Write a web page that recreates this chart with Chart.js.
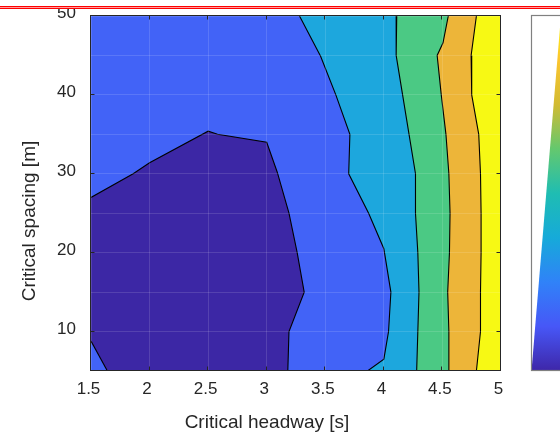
<!DOCTYPE html>
<html><head><meta charset="utf-8">
<script src="https://cdn.jsdelivr.net/npm/chart.js@4/dist/chart.umd.min.js"></script>
<style>html,body{margin:0;padding:0;background:#fff;overflow:hidden}canvas{display:block}</style>
</head><body>
<canvas id="c" width="560" height="433" style="width:560px;height:433px"></canvas>
<script>
// ---- data ----
const xLimits = [1.5, 5];
const yLimits = [5, 50];
const xTickValues = [1.5, 2, 2.5, 3, 3.5, 4, 4.5, 5];
const yTickValues = [10, 20, 30, 40, 50];
const xAxisLabel = 'Critical headway [s]';
const yAxisLabel = 'Critical spacing [m]';

// lowest band: closed region on the left
const band1X = [1.5, 1.86, 2.0, 2.5, 2.58, 3.0, 3.09, 3.19, 3.26, 3.32, 3.19, 3.18, 1.64, 1.5];
const band1Y = [27.0, 30.0, 31.4, 35.4, 35.0, 34.0, 30.2, 25.0, 20.0, 15.0, 10.0, 5.0, 5.0, 8.8];
// contour boundaries (top to bottom); everything right of each one is the next band
const edge3X = [3.28, 3.46, 3.59, 3.71, 3.70, 3.87, 4.00, 4.06, 4.04, 4.00, 3.86];
const edge3Y = [50, 44.9, 40, 35, 30, 25, 20.5, 15, 10, 6.5, 5];
const edge4X = [4.11, 4.105, 4.16, 4.215, 4.27, 4.27, 4.29, 4.30, 4.29, 4.28];
const edge4Y = [50, 45, 40, 35, 30, 25, 20, 15, 10, 5];
const edge5X = [4.55, 4.505, 4.455, 4.49, 4.53, 4.555, 4.565, 4.56, 4.545, 4.555, 4.555];
const edge5Y = [50, 46.6, 45, 40, 35, 30, 25, 20, 15, 10, 5];
const edge6X = [4.79, 4.745, 4.75, 4.81, 4.825, 4.83, 4.83, 4.825, 4.825, 4.79];
const edge6Y = [50, 45, 40, 35, 30, 25, 20, 15, 10, 5];
const bandColors = ['#3c27a5', '#4263f7', '#1da7dd', '#4bc984', '#edb539', '#f7f914'];
const colorbarStops = ['#3e26a8', '#4757f7', '#3082f8', '#16aad9', '#1fbdb2', '#64c86e', '#d2bb32', '#fcc52f', '#f9fb0e'];

// ---- build ----
const pts = (xs, ys) => xs.map((x, i) => ({x, y: ys[i]}));
const fullRect = pts([xLimits[0], xLimits[0], xLimits[1], xLimits[1]], [yLimits[0], yLimits[1], yLimits[1], yLimits[0]]);
const rightOf = (xs, ys) => pts(xs.concat([xLimits[1], xLimits[1]]), ys.concat([yLimits[0], yLimits[1]]));
const onFrame = (a, b) =>
  (a.x === xLimits[0] && b.x === xLimits[0]) || (a.x === xLimits[1] && b.x === xLimits[1]) ||
  (a.y === yLimits[0] && b.y === yLimits[0]) || (a.y === yLimits[1] && b.y === yLimits[1]);

function area(data, color, order) {
  return { data, order, fill: 'shape', backgroundColor: color, borderWidth: 0,
           pointRadius: 0, pointHoverRadius: 0, tension: 0 };
}
function contour(data) {
  return { data, order: 0, fill: false, borderColor: '#000', borderWidth: 1.1,
           pointRadius: 0, pointHoverRadius: 0, tension: 0,
           segment: { borderColor: c => onFrame(c.p0.parsed, c.p1.parsed) ? 'rgba(0,0,0,0)' : '#000' } };
}

const datasets = [
  area(fullRect, bandColors[1], 7),
  area(rightOf(edge3X, edge3Y), bandColors[2], 6),
  area(rightOf(edge4X, edge4Y), bandColors[3], 5),
  area(rightOf(edge5X, edge5Y), bandColors[4], 4),
  area(rightOf(edge6X, edge6Y), bandColors[5], 3),
  area(pts(band1X, band1Y), bandColors[0], 2),
  contour(pts(band1X, band1Y)),
  contour(pts(edge3X, edge3Y)),
  contour(pts(edge4X, edge4Y)),
  contour(pts(edge5X, edge5Y)),
  contour(pts(edge6X, edge6Y))
];

const FONT = "'Liberation Sans', Arial, Helvetica, sans-serif";
const TXT = '#262626';

const deco = {
  id: 'deco',
  afterDraw(chart) {
    const {ctx, chartArea: a, scales: {x, y}} = chart;
    ctx.save();
    ctx.strokeStyle = TXT; ctx.lineWidth = 1;
    const L = a.left - 0.5, R = a.right - 0.5, T = a.top - 0.5, B = a.bottom - 0.5;
    ctx.beginPath();
    xTickValues.forEach(v => {
      const px = Math.round(x.getPixelForValue(v)) - 0.5;
      ctx.moveTo(px, B); ctx.lineTo(px, B - 4);
      ctx.moveTo(px, T); ctx.lineTo(px, T + 4);
    });
    yTickValues.forEach(v => {
      const py = Math.round(y.getPixelForValue(v)) - 0.5;
      ctx.moveTo(L, py); ctx.lineTo(L + 4, py);
      ctx.moveTo(R, py); ctx.lineTo(R - 4, py);
    });
    ctx.stroke();
    ctx.strokeRect(L, T, R - L, B - T);

    ctx.fillStyle = TXT;
    ctx.font = '19px ' + FONT;
    ctx.textAlign = 'center';
    ctx.textBaseline = 'alphabetic';
    ctx.fillText(xAxisLabel, 267, 428);
    ctx.save();
    ctx.translate(35, 221);
    ctx.rotate(-Math.PI / 2);
    ctx.fillText(yAxisLabel, 0, 0);
    ctx.restore();

    const cbL = 531.5, cbT = a.top - 0.5, cbB = a.bottom;
    const g = ctx.createLinearGradient(0, cbB, 0, cbT);
    colorbarStops.forEach((c, i) => g.addColorStop(i / (colorbarStops.length - 1), c));
    ctx.save();
    ctx.beginPath(); ctx.rect(cbL, cbT, 40, cbB - cbT); ctx.clip();
    ctx.beginPath();
    ctx.moveTo(cbL, cbB); ctx.lineTo(600, cbB); ctx.lineTo(600, cbB - (600 - cbL) * 12.05); ctx.closePath();
    ctx.fillStyle = g; ctx.fill();
    ctx.restore();
    ctx.strokeStyle = '#808080'; ctx.lineWidth = 1.2;
    ctx.strokeRect(cbL, cbT, 40, cbB - 0.5 - cbT);

    ctx.fillStyle = '#fff'; ctx.fillRect(0, 0, 560, 6);
    ctx.fillStyle = '#ff0000'; ctx.fillRect(0, 6, 560, 1); ctx.fillRect(0, 8, 560, 1);
    ctx.fillStyle = '#ff9c9c'; ctx.fillRect(0, 7, 560, 1);
    ctx.restore();
  }
};

new Chart(document.getElementById('c'), {
  type: 'line',
  data: { datasets },
  options: {
    responsive: false,
    devicePixelRatio: 1,
    animation: false,
    events: [],
    layout: { padding: { left: 0, right: 59, top: 16, bottom: 0 } },
    plugins: { legend: { display: false }, tooltip: { enabled: false } },
    scales: {
      x: {
        type: 'linear', min: xLimits[0], max: xLimits[1],
        afterFit: s => { s.height = 62; s.paddingLeft = 0; s.paddingRight = 0; },
        afterBuildTicks: s => { s.ticks = xTickValues.map(v => ({value: v})); },
        ticks: { font: { family: FONT, size: 17 }, color: TXT, padding: 8, maxRotation: 0, autoSkip: false, labelOffset: -2.5,
                 callback: v => String(v) },
        grid: { color: 'rgba(255,255,255,0.13)', drawTicks: false, z: 1 },
        border: { display: false }
      },
      y: {
        type: 'linear', min: yLimits[0], max: yLimits[1],
        afterFit: s => { s.width = 91; s.paddingTop = 0; s.paddingBottom = 0; },
        afterBuildTicks: s => { const t = []; for (let v = yLimits[0]; v <= yLimits[1]; v += 5) t.push({value: v}); s.ticks = t; },
        ticks: { font: { family: FONT, size: 17 }, color: TXT, padding: 15, autoSkip: false, labelOffset: -2.5,
                 callback: v => yTickValues.includes(v) ? String(v) : '' },
        grid: { color: 'rgba(255,255,255,0.13)', drawTicks: false, z: 1 },
        border: { display: false }
      }
    }
  },
  plugins: [deco]
});
</script>
</body></html>
